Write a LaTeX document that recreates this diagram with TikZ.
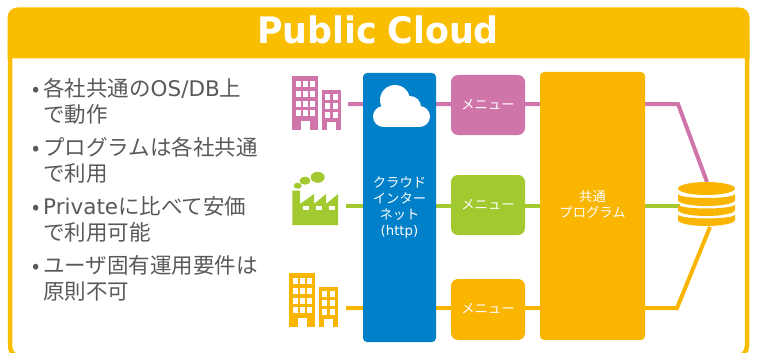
\documentclass[tikz,border=0pt]{standalone}
\usepackage{fontspec}
\setmainfont{DejaVu Sans}
\newfontfamily\cjk{Noto Sans CJK JP}
\usetikzlibrary{backgrounds}

\definecolor{headyellow}{HTML}{FABE00}
\definecolor{blockorange}{HTML}{F9B500}
\definecolor{cloudblue}{HTML}{0080C8}
\definecolor{linkpink}{HTML}{CF75A9}
\definecolor{linkgreen}{HTML}{A2C92F}
\definecolor{textgray}{HTML}{595959}

\tikzset{
    menubox/.style={rectangle, rounded corners=7pt, minimum width=74pt, minimum height=60pt,
        inner sep=0pt, outer sep=0pt, text=white, font=\fontsize{13.3}{16}\selectfont\cjk},
    bigbar/.style={rectangle, rounded corners=4pt, inner sep=0pt, outer sep=0pt},
    barlabel/.style={text=white, align=center, inner sep=0pt, font=\fontsize{13.3}{16}\selectfont\cjk},
    bullettext/.style={anchor=north west, inner sep=0pt, align=left, text=textgray,
        font=\fontsize{21.5}{26}\selectfont\cjk},
    linkline/.style={line width=4pt}
}
\newcommand{\latinpart}[1]{{\fontspec{DejaVu Sans}\fontsize{21.5}{26}\selectfont #1}}
\newcommand{\menulabel}{\raisebox{1.5pt}{メニュー}}

\begin{document}
\begin{tikzpicture}[x=1pt, y=-1pt]
    \useasboundingbox (0,0) rectangle (758,353);

    % Panel and header
    \draw[headyellow, line width=4.5pt, rounded corners=11pt] (10,30) rectangle (747,357);
    \fill[headyellow] (7.5,58.5) [rounded corners=10pt] -- (7.5,7.5) -- (749.5,7.5) [sharp corners] -- (749.5,58.5) -- cycle;
    \node[text=white, font=\fontsize{36.5}{40}\selectfont\bfseries] (title) at (378,30) {\scalebox{0.955}[1]{Public\hspace{11pt}Cloud}};

    % Bullet list
    \node[bullettext] (itemA) at (43,78) {\llap{•\hspace{3pt}}各社共通の\latinpart{OS/DB}上\\で動作};
    \node[bullettext] (itemB) at (43,137) {\llap{•\hspace{3pt}}プログラムは各社共通\\で利用};
    \node[bullettext] (itemC) at (43,196) {\llap{•\hspace{3pt}}\latinpart{Private}に比べて安価\\で利用可能};
    \node[bullettext] (itemD) at (43,255) {\llap{•\hspace{3pt}}ユーザ固有運用要件は\\原則不可};

    % Blocks
    \node[bigbar, fill=cloudblue, minimum width=73pt, minimum height=269pt] (inet) at (399.5,207.5) {};
    \node[barlabel] (inetlabel) at (399.5,208)
        {クラウド\\インター\\ネット\\{\fontspec{DejaVu Sans}\fontsize{13.3}{16}\selectfont (http)}};
    \node[menubox, fill=linkpink] (menuA) at (488,105) {\menulabel};
    \node[menubox, fill=linkgreen] (menuB) at (488,205) {\menulabel};
    \node[menubox, fill=blockorange, minimum height=61pt] (menuC) at (488,309.5) {\menulabel};
    \node[bigbar, fill=blockorange, minimum width=105pt, minimum height=268pt] (prog) at (592.5,206) {};
    \node[barlabel] (proglabel) at (592.5,204) {共通\\プログラム};

    % Cloud
    \fill[white] (395,100) circle (15);
    \fill[white] (383.5,116.5) circle (10.5);
    \fill[white] (419.5,116.5) circle (10.5);
    \fill[white] (410,107) circle (11);
    \fill[white] (383.5,105) rectangle (419.5,127);

    % Left end points, bends and database
    \coordinate (iconA) at (348,104);
    \coordinate (iconB) at (346,205.5);
    \coordinate (iconC) at (346,308);
    \coordinate (bendA) at (678,104);
    \coordinate (bendC) at (677,308);
    \coordinate (dbtop) at (707,182);
    \coordinate (dbleft) at (680,205.5);
    \coordinate (dbbottom) at (710,227);

    \begin{scope}[on background layer]
        \draw[linkline, linkpink] (iconA) -- (bendA) -- (dbtop);
        \draw[linkline, linkgreen] (iconB) -- (dbleft);
        \draw[linkline, blockorange] (iconC) -- (bendC) -- (dbbottom);
    \end{scope}

    % Database
    \def\dbband#1#2{%
        \fill[blockorange] (678,#1) -- (678,#2) arc[start angle=180, end angle=360, x radius=28.5, y radius=-6]
            -- (735,#1) arc[start angle=360, end angle=180, x radius=28.5, y radius=-4] -- cycle;%
    }
    \fill[blockorange] (706.5,188.5) ellipse (28.5 and 6.5);
    \dbband{194}{200}
    \dbband{204.5}{210}
    \dbband{214.5}{220}

    % Buildings: x, y, colour
    \def\tower#1#2#3{%
        \begin{scope}[shift={(#1,#2)}]
            \fill[#3] (0,0) rectangle (26,53.5);
            \fill[#3] (30,14) rectangle (49,53.5);
            \foreach \col in {3.7,10.7,18}
                \foreach \row in {4.7,14.7,24.7,34}
                    \fill[white] (\col,\row) rectangle +(4.8,6);
            \foreach \col in {33,40.7}
                \foreach \row in {18.3,26.7,35.7}
                    \fill[white] (\col,\row) rectangle +(4.8,5.8);
            \fill[white] (8.7,44.7) rectangle (18,53.5);
            \fill[white] (34.7,45.7) rectangle (43.7,53.5);
        \end{scope}%
    }
    \tower{292}{76}{linkpink}
    \tower{289}{273}{blockorange}

    % Factory
    \fill[linkgreen] (292.3,190.7) -- (300,190.7) -- (300,204) -- (314,194) -- (314,204) -- (326,194)
        -- (326,204) -- (338,194) -- (338,225) -- (292.3,225) -- cycle;
    \foreach \col in {303,316,329}
        \fill[white] (\col,205.7) rectangle +(6,4.3);
    \fill[linkgreen] (317.7,177.3) ellipse (7 and 5.5);
    \fill[linkgreen] (305,180.7) ellipse (5.5 and 4);
    \fill[linkgreen] (297.7,185.7) ellipse (4 and 3);
\end{tikzpicture}
\end{document}
